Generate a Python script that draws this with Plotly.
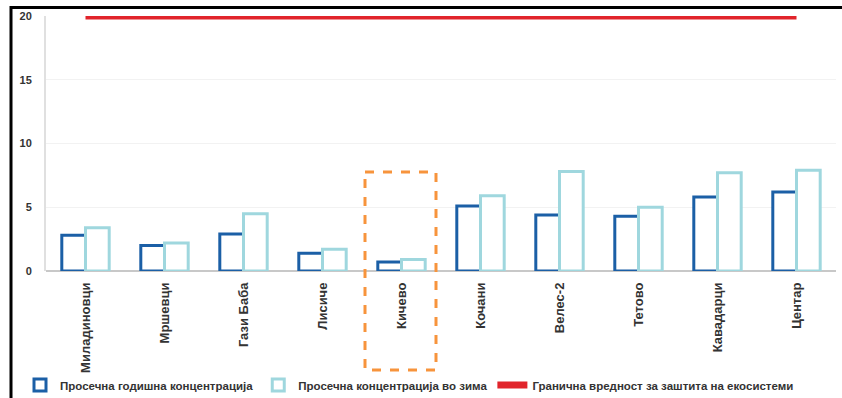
import plotly.graph_objects as go

categories = ["Миладиновци", "Мршевци", "Гази Баба", "Лисиче", "Кичево",
              "Кочани", "Велес-2", "Тетово", "Кавадарци", "Центар"]
annual = [2.8, 2.0, 2.9, 1.4, 0.7, 5.1, 4.4, 4.3, 5.8, 6.2]
winter = [3.4, 2.2, 4.5, 1.7, 0.9, 5.9, 7.8, 5.0, 7.7, 7.9]
limit = [20] * len(categories)
yticks = [0, 5, 10, 15, 20]

W, H = 842, 398
ML, MR, MT, MB = 46, 6, 16, 127
PW, PH = W - ML - MR, H - MT - MB

def px(xp):
    return (xp - ML) / PW

def py(yp):
    return (H - MB - yp) / PH

FAM = "Liberation Sans, Arial, sans-serif"

fig = go.Figure()
fig.add_trace(go.Bar(
    x=categories, y=annual, name="Просечна годишна концентрација",
    marker=dict(color="white", line=dict(color="#1b5fa6", width=3)),
))
fig.add_trace(go.Bar(
    x=categories, y=winter, name="Просечна концентрација во зима",
    marker=dict(color="white", line=dict(color="#9fd7de", width=3)),
))
fig.add_trace(go.Scatter(
    x=categories, y=limit, name="Гранична вредност за заштита на екосистеми",
    mode="lines", line=dict(color="#e1242b", width=7), cliponaxis=False,
))

fig.update_layout(
    width=W, height=H,
    margin=dict(l=ML, r=MR, t=MT, b=MB, autoexpand=False),
    paper_bgcolor="white", plot_bgcolor="white",
    barmode="group", bargap=0.4, bargroupgap=0,
    font=dict(family=FAM, size=11, color="#333333"),
    showlegend=True,
    legend=dict(orientation="h", x=20 / W, xanchor="left", xref="container",
                y=1 - 385 / H, yanchor="middle", yref="container",
                font=dict(family=FAM, size=11.5, color="#333333", weight="bold"),
                itemwidth=30, tracegroupgap=0, bgcolor="rgba(0,0,0,0)"),
    xaxis=dict(tickangle=-90, showgrid=False, showline=False, zeroline=False,
               tickfont=dict(family=FAM, size=13, color="#333333", weight="bold"),
               ticks="", ticklabelstandoff=8),
    yaxis=dict(range=[0, 20], tickvals=yticks, showgrid=True, gridcolor="#f2f2f2",
               gridwidth=1, zeroline=True, zerolinecolor="#c8c8c8", zerolinewidth=2,
               showline=True, linecolor="#e0e0e0", linewidth=2,
               tickfont=dict(family=FAM, size=11, color="#333333", weight="bold"),
               ticks="", ticklabelstandoff=10),
    shapes=[
        dict(type="line", xref="paper", yref="paper", x0=px(11), x1=px(11), y0=py(6), y1=py(400),
             line=dict(color="black", width=3)),
        dict(type="line", xref="paper", yref="paper", x0=px(10), x1=px(845), y0=py(7.5), y1=py(7.5),
             line=dict(color="black", width=3)),
        dict(type="rect", xref="paper", yref="paper", x0=px(365), x1=px(436), y0=py(172), y1=py(370),
             line=dict(color="#f7943c", width=3, dash="dash")),
    ],
)

fig.write_html("out.html")
